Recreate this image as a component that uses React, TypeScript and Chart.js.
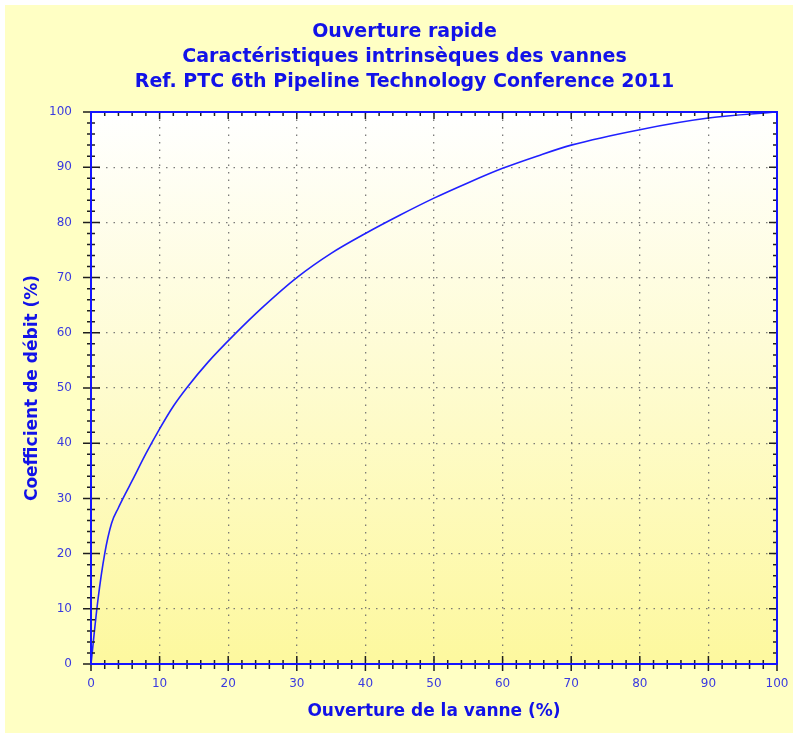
import React, { useEffect, useRef } from "react";
import { Chart, registerables } from "chart.js";

Chart.register(...registerables);

const titleLines = [
  "Ouverture rapide",
  "Caractéristiques intrinsèques des vannes",
  "Ref. PTC 6th Pipeline Technology Conference 2011",
];
const xAxisTitle = "Ouverture de la vanne (%)";
const yAxisTitle = "Coefficient de débit (%)";

// Valve opening (%)
const opening = [0, 1, 2, 3, 4, 5, 6, 8, 10, 12, 14, 17, 21, 25, 30, 35, 40, 45, 50, 55, 60, 65, 70, 80, 90, 100];
// Flow coefficient (%)
const flowCoef = [0, 11.5, 20, 25.5, 28.3, 30.8, 33.2, 38.1, 42.6, 46.7, 50.1, 54.6, 59.8, 64.6, 70, 74.4, 78, 81.3, 84.4, 87.2, 89.8, 92, 94, 96.8, 98.9, 100];

const axisMin = 0;
const axisMax = 100;
const majorStep = 10;
const minorStep = 2;

const FONT = "'DejaVu Sans', Verdana, sans-serif";
const TITLE_BLUE = "#1212e8";
const TICK_BLUE = "#3a3ae0";
const PANEL = "#ffffc4";

const framePlugin = {
  id: "frame",
  beforeDraw(chart: any) {
    const { ctx, width, height, chartArea: a } = chart;
    ctx.save();
    ctx.fillStyle = "#ffffff";
    ctx.fillRect(0, 0, width, height);
    ctx.fillStyle = PANEL;
    ctx.fillRect(5, 5, width - 5, height - 5);
    const g = ctx.createLinearGradient(0, a.top, 0, a.bottom);
    g.addColorStop(0, "#ffffff");
    g.addColorStop(1, "#fdf89e");
    ctx.fillStyle = g;
    ctx.fillRect(a.left, a.top, a.right - a.left, a.bottom - a.top);
    ctx.restore();
  },
  afterDraw(chart: any) {
    const { ctx, chartArea: a } = chart;
    const xs = chart.scales.x;
    const ys = chart.scales.y;
    ctx.save();
    ctx.strokeStyle = "#1e1e1e";
    ctx.lineWidth = 1.5;
    ctx.beginPath();
    for (let v = axisMin; v <= axisMax; v += minorStep) {
      const major = v % majorStep === 0;
      const px = xs.getPixelForValue(v);
      ctx.moveTo(px, a.bottom - (major ? 8 : 4));
      ctx.lineTo(px, a.bottom + (major ? 7 : 5));
      ctx.moveTo(px, a.top);
      ctx.lineTo(px, a.top + (major ? 7 : 4));
      const py = ys.getPixelForValue(v);
      ctx.moveTo(a.left - (major ? 8 : 4), py);
      ctx.lineTo(a.left + (major ? 9 : 4), py);
      ctx.moveTo(a.right - (major ? 8 : 4), py);
      ctx.lineTo(a.right, py);
    }
    ctx.stroke();
    ctx.strokeStyle = "#1414ff";
    ctx.lineWidth = 2;
    ctx.strokeRect(a.left, a.top, a.right - a.left, a.bottom - a.top);
    ctx.restore();
  },
};

export default function App() {
  const ref = useRef<HTMLCanvasElement | null>(null);

  useEffect(() => {
    if (!ref.current) return;
    const points = opening.map((x, i) => ({ x, y: flowCoef[i] }));
    const gridCommon = {
      color: "rgba(110,110,110,0.9)",
      lineWidth: 1.3,
      drawTicks: false,
    };
    const chart = new Chart(ref.current, {
      type: "line",
      data: {
        datasets: [
          {
            data: points,
            borderColor: "#2020ff",
            borderWidth: 1.6,
            pointRadius: 0,
            cubicInterpolationMode: "monotone",
            fill: false,
          },
        ],
      },
      options: {
        animation: false,
        responsive: false,
        devicePixelRatio: 1,
        layout: { padding: { left: 16, right: 0, top: 0, bottom: 0 } },
        plugins: {
          legend: { display: false },
          tooltip: { enabled: false },
          title: {
            display: true,
            text: titleLines,
            color: TITLE_BLUE,
            font: { family: FONT, size: 19, weight: "bold", lineHeight: 25 / 19 },
            padding: { top: 20, bottom: 17 },
          },
        },
        scales: {
          x: {
            type: "linear",
            min: axisMin,
            max: axisMax,
            grid: gridCommon,
            border: { display: false, dash: [1.5, 6] },
            ticks: {
              stepSize: majorStep,
              color: TICK_BLUE,
              font: { family: FONT, size: 12 },
              padding: 13,
              maxRotation: 0,
            },
            title: {
              display: true,
              text: xAxisTitle,
              color: TITLE_BLUE,
              font: { family: FONT, size: 17, weight: "bold", lineHeight: 1.2 },
              padding: { top: 0, bottom: 11 },
            },
            afterFit: (s: any) => {
              s.height = 69;
              s.paddingLeft = 0;
              s.paddingRight = 16;
            },
          },
          y: {
            type: "linear",
            min: axisMin,
            max: axisMax,
            grid: gridCommon,
            border: { display: false, dash: [1.5, 6] },
            ticks: {
              stepSize: majorStep,
              color: TICK_BLUE,
              font: { family: FONT, size: 12 },
              padding: 19,
            },
            title: {
              display: true,
              text: yAxisTitle,
              color: TITLE_BLUE,
              font: { family: FONT, size: 17, weight: "bold", lineHeight: 1.2 },
              padding: { top: 6, bottom: 0 },
            },
            afterFit: (s: any) => {
              s.width = 75;
            },
          },
        },
      } as any,
      plugins: [framePlugin],
    });
    return () => chart.destroy();
  }, []);

  return (
    <div style={{ position: "absolute", left: 0, top: 0, width: 793, height: 733 }}>
      <canvas ref={ref} width={793} height={733} style={{ display: "block" }} />
    </div>
  );
}
